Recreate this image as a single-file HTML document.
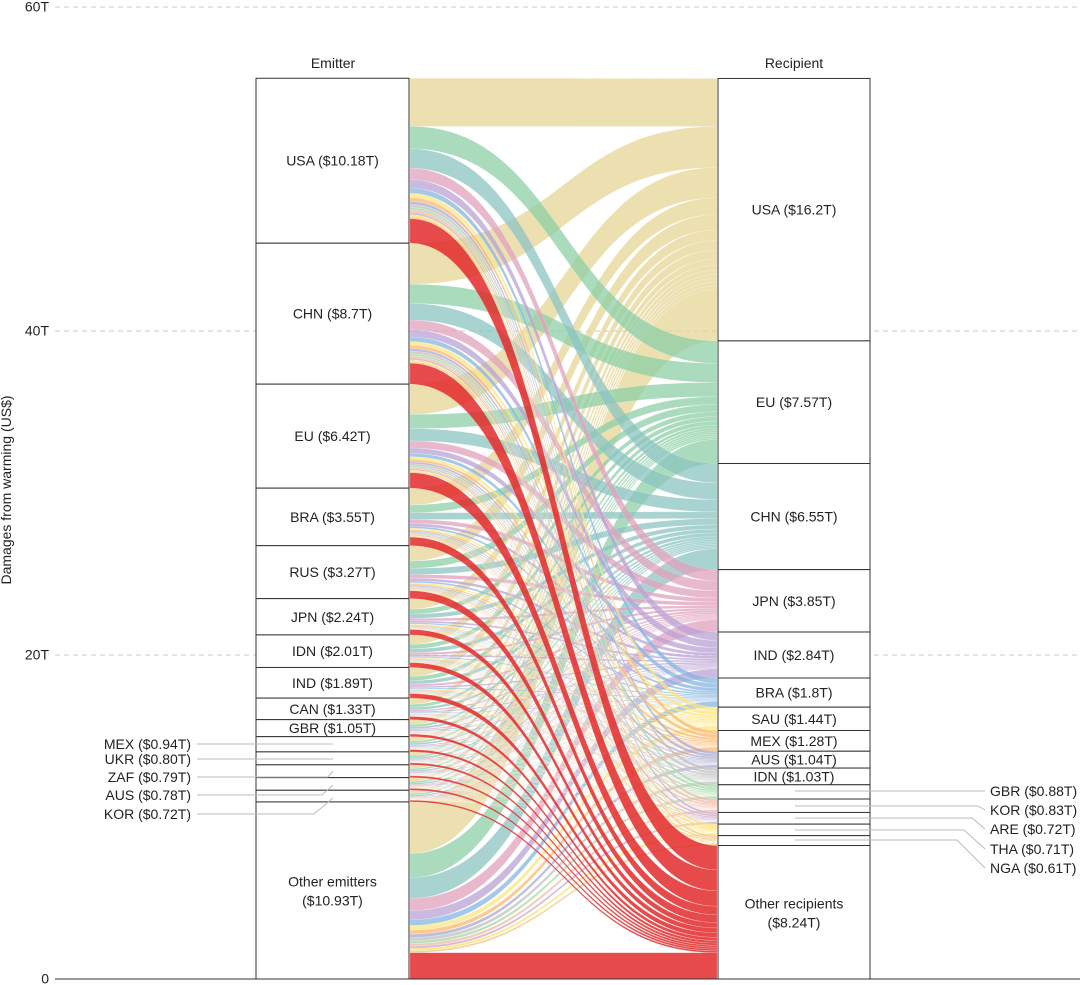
<!DOCTYPE html>
<html><head><meta charset="utf-8"><style>
body{margin:0;background:#fff;width:1080px;height:985px;overflow:hidden}
svg{display:block;font-family:"Liberation Sans",Arial,sans-serif}
</style></head><body>
<svg id="s" width="1080" height="985" xmlns="http://www.w3.org/2000/svg"></svg>
<script>
const S=document.getElementById('s');
const Y0=979,K=16.2,FS=14;
const E=[["USA",10.18],["CHN",8.7],["EU",6.42],["BRA",3.55],["RUS",3.27],["JPN",2.24],["IDN",2.01],["IND",1.89],["CAN",1.33],["GBR",1.05],["MEX",0.94],["UKR",0.80],["ZAF",0.79],["AUS",0.78],["KOR",0.72],["Other emitters",10.93]];
const R=[["USA",16.2],["EU",7.57],["CHN",6.55],["JPN",3.85],["IND",2.84],["BRA",1.8],["SAU",1.44],["MEX",1.28],["AUS",1.04],["IDN",1.03],["GBR",0.88],["KOR",0.83],["ARE",0.72],["THA",0.71],["NGA",0.61],["Other recipients",8.24]];
const C=["#e6d495","#8ccfa6","#8cc4c2","#e0a2bc","#b9a2d6","#84b6e0","#fde57e","#f9b86f","#a9a9d2","#c0c0c0","#a6d8a6","#f0b8a0","#c9a8c8","#fbe06a","#f3c47d","#e32a2a"];
let h='';
[[0,"0"],[20,"20T"],[40,"40T"],[60,"60T"]].forEach(([v,l])=>{const y=Y0-v*K;
 if(v>0)h+=`<line x1="55" x2="1080" y1="${y}" y2="${y}" stroke="#c8c8c8" stroke-dasharray="5,4"/>`;
 h+=`<text x="49" y="${y+4.5}" font-size="${FS}" text-anchor="end" fill="#222">${l}</text>`;});
h+=`<text transform="translate(11,490) rotate(-90)" font-size="${FS}" text-anchor="middle" fill="#222">Damages from warming (US$)</text>`;
const T=E.reduce((a,b)=>a+b[1],0);
let eTop=[],y=Y0-T*K;for(const e of E){eTop.push(y);y+=e[1]*K;}
const RT=R.reduce((a,b)=>a+b[1],0);
let rTop=[];y=Y0-RT*K;for(const r of R){rTop.push(y);y+=r[1]*K;}
const F=E.map(e=>R.map(r=>e[1]*r[1]/T));
const colSum=R.map((r,j)=>E.reduce((a,e,k)=>a+F[k][j],0));
let lp=[],rp=[];
for(let i=0;i<E.length;i++){let o=eTop[i];lp[i]=[];for(let j=0;j<R.length;j++){lp[i][j]=o;o+=F[i][j]*K;}}
for(let j=0;j<R.length;j++){let o=rTop[j];rp[j]=[];for(let i=0;i<E.length;i++){rp[j][i]=o;o+=F[i][j]*K*R[j][1]/colSum[j];}}
const x0=410,x1=717,m=(x0+x1)/2;
for(let j=0;j<R.length;j++){
 for(let i=0;i<E.length;i++){
  const hl=F[i][j]*K, hr=F[i][j]*K*R[j][1]/colSum[j];
  const a=lp[i][j],b=rp[j][i];
  h+=`<path d="M${x0},${a}C${m},${a} ${m},${b} ${x1},${b}L${x1},${b+hr}C${m},${b+hr} ${m},${a+hl} ${x0},${a+hl}Z" fill="${C[j]}" fill-opacity="${j==15?0.85:0.75}" stroke="#fff" stroke-width="0.3" stroke-opacity="0.5"/>`;
 }
}
h+=`<line x1="55" x2="1080" y1="${Y0}" y2="${Y0}" stroke="#333" stroke-width="1"/>`;
function boxes(arr,tops,x,w){
 arr.forEach((e,i)=>{const t=tops[i],hh=e[1]*K;
  h+=`<rect x="${x}" y="${t}" width="${w}" height="${hh}" fill="#fff" stroke="#333" stroke-width="1"/>`;
  const cx=x+w/2;
  if(e[0].startsWith("Other")){
   h+=`<text x="${cx}" y="${t+hh/2-4}" font-size="${FS}" text-anchor="middle" fill="#222">${e[0]}</text><text x="${cx}" y="${t+hh/2+15}" font-size="${FS}" text-anchor="middle" fill="#222">($${e[1].toFixed(2)}T)</text>`;
  } else if(e[1]>1.0){
   h+=`<text x="${cx}" y="${t+hh/2+5}" font-size="${FS}" text-anchor="middle" fill="#222">${e[0]} ($${e[1]}T)</text>`;
  }
 });
}
boxes(E,eTop,256,153);
boxes(R,rTop,718,152);
h+=`<text x="333" y="68" font-size="${FS}" text-anchor="middle" fill="#222">Emitter</text><text x="794" y="68" font-size="${FS}" text-anchor="middle" fill="#222">Recipient</text>`;
const L=[["MEX ($0.94T)",744,744,197],["UKR ($0.80T)",759,759,197],["ZAF ($0.79T)",777,771,328],["AUS ($0.78T)",795,785,322],["KOR ($0.72T)",814,798,314]];
L.forEach(([t,ly,by,kx])=>{h+=`<text x="191" y="${ly+5}" font-size="${FS}" text-anchor="end" fill="#222">${t}</text><polyline points="197,${ly} ${kx},${ly} 333,${by}" fill="none" stroke="#bbb"/>`;});
const Rr=[["GBR ($0.88T)",791,791,982],["KOR ($0.83T)",810,806,978],["ARE ($0.72T)",829,818,972],["THA ($0.71T)",849,830,964],["NGA ($0.61T)",868,840,957]];
Rr.forEach(([t,ly,by,kx])=>{h+=`<text x="990" y="${ly+5}" font-size="${FS}" fill="#222">${t}</text><polyline points="795,${by} ${kx},${by} 985,${ly}" fill="none" stroke="#bbb"/>`;});
S.innerHTML=h;
</script>
</body></html>
